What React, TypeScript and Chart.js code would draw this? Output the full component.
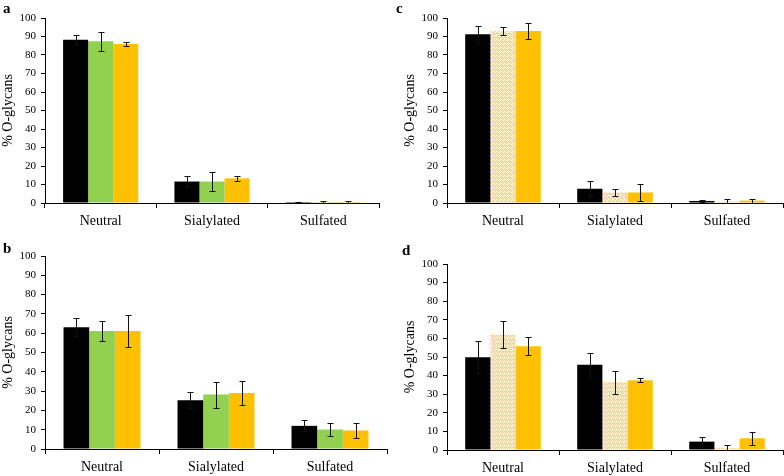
import React, { useEffect, useRef } from "react";
import { Chart, registerables } from "chart.js";

Chart.register(...registerables);

const categories = ["Neutral", "Sialylated", "Sulfated"];
const yTicks = [0, 10, 20, 30, 40, 50, 60, 70, 80, 90, 100];

// Panel a
const aBlack = [88.3, 11.6, 0.5];
const aBlackErr = [2.5, 3.1, 0.2];
const aGreen = [87.5, 11.6, 0.5];
const aGreenErr = [5.2, 4.9, 0.5];
const aOrange = [85.9, 13.3, 0.6];
const aOrangeErr = [1.2, 1.3, 0.5];

// Panel b
const bBlack = [63.1, 25.3, 12.0];
const bBlackErr = [4.8, 4.0, 2.9];
const bGreen = [61.1, 28.2, 10.1];
const bGreenErr = [5.3, 6.7, 3.2];
const bOrange = [61.1, 29.0, 9.6];
const bOrangeErr = [8.2, 6.1, 3.7];

// Panel c
const cBlack = [91.2, 7.7, 1.1];
const cBlackErr = [4.7, 4.1, 0.3];
const cPattern = [93.0, 5.7, 0.8];
const cPatternErr = [2.2, 1.8, 1.5];
const cOrange = [93.0, 5.7, 1.3];
const cOrangeErr = [4.1, 4.5, 1.1];

// Panel d
const dBlack = [49.9, 45.8, 4.5];
const dBlackErr = [8.6, 6.3, 2.5];
const dPattern = [61.9, 36.4, 1.1];
const dPatternErr = [7.2, 6.3, 1.6];
const dOrange = [55.8, 37.5, 6.3];
const dOrangeErr = [4.7, 1.0, 3.6];

const FONT = "'Liberation Serif', 'Times New Roman', serif";
const BLACK = "#000000";
const GREEN = "#92D050";
const ORANGE = "#FFC000";

function makePattern(): CanvasPattern | string {
  const c = document.createElement("canvas");
  c.width = 4;
  c.height = 4;
  const g = c.getContext("2d");
  if (!g) return "#FCE39A";
  g.fillStyle = "#FFF1C8";
  g.fillRect(0, 0, 4, 4);
  g.fillStyle = "#F8CD55";
  g.fillRect(1, 0, 1, 1);
  g.fillRect(0, 1, 1, 1);
  g.fillRect(2, 1, 1, 1);
  g.fillRect(1, 2, 1, 1);
  g.fillStyle = "#FBDB82";
  g.fillRect(3, 3, 1, 1);
  g.fillRect(3, 2, 1, 1);
  g.fillRect(2, 3, 1, 1);
  const p = g.createPattern(c, "repeat");
  return p || "#FCE39A";
}

const errorBars = {
  id: "errorBars",
  afterDatasetsDraw(chart: any) {
    const ctx = chart.ctx;
    const y = chart.scales.y;
    ctx.save();
    ctx.strokeStyle = "#111";
    ctx.lineWidth = 1;
    chart.data.datasets.forEach((ds: any, i: number) => {
      const meta = chart.getDatasetMeta(i);
      meta.data.forEach((bar: any, j: number) => {
        const v = ds.data[j];
        const e = ds.errors[j];
        const x = Math.round(bar.x) + 0.5;
        const yt = Math.round(y.getPixelForValue(v + e)) + 0.5;
        const yb = Math.round(y.getPixelForValue(Math.max(0, v - e))) + 0.5;
        ctx.beginPath();
        ctx.moveTo(x, yt);
        ctx.lineTo(x, yb);
        ctx.moveTo(x - 3, yt);
        ctx.lineTo(x + 3, yt);
        ctx.moveTo(x - 3, yb);
        ctx.lineTo(x + 3, yb);
        ctx.stroke();
      });
    });
    ctx.restore();
  },
};

const panelLabel = {
  id: "panelLabel",
  afterDraw(chart: any, _args: any, opts: any) {
    if (!opts || !opts.text) return;
    const ctx = chart.ctx;
    ctx.save();
    ctx.fillStyle = "#000";
    ctx.font = `bold 15px ${FONT}`;
    ctx.textBaseline = "alphabetic";
    ctx.fillText(opts.text, opts.x, opts.y);
    ctx.restore();
  },
};

type PanelProps = {
  letter: string;
  left: number;
  top: number;
  width: number;
  height: number;
  padTop: number;
  padRight: number;
  yWidth: number;
  xHeight: number;
  titlePad: number;
  labelX: number;
  labelY: number;
  series: { values: number[]; errors: number[]; color: string }[];
};

function Panel(p: PanelProps) {
  const ref = useRef<HTMLCanvasElement | null>(null);
  useEffect(() => {
    if (!ref.current) return;
    const pattern = makePattern();
    const chart = new Chart(ref.current, {
      type: "bar",
      data: {
        labels: categories,
        datasets: p.series.map((s, i) => ({
          label: `Series ${i + 1}`,
          data: s.values,
          errors: s.errors,
          backgroundColor: s.color === "pattern" ? pattern : s.color,
          borderWidth: 0,
          categoryPercentage: 0.675,
          barPercentage: 1.0,
        })) as any,
      },
      options: {
        animation: false,
        responsive: false,
        devicePixelRatio: 1,
        layout: { padding: { left: 0, right: p.padRight, top: p.padTop, bottom: 0 } },
        plugins: {
          legend: { display: false },
          tooltip: { enabled: false },
          panelLabel: { text: p.letter, x: p.labelX, y: p.labelY },
        } as any,
        scales: {
          x: {
            grid: {
              offset: true,
              drawOnChartArea: false,
              tickLength: 5,
              color: "#000",
              tickColor: "#000",
            },
            border: { color: "#000", width: 1 },
            ticks: { font: { family: FONT, size: 14 }, color: "#000", padding: 5 },
            afterFit(s: any) {
              s.height = p.xHeight;
            },
          },
          y: {
            min: 0,
            max: 100,
            afterBuildTicks(s: any) {
              s.ticks = yTicks.map((v) => ({ value: v }));
            },
            ticks: { font: { family: FONT, size: 11 }, color: "#000", padding: 5 },
            grid: { drawOnChartArea: false, tickLength: 4, tickColor: "#000", color: "#000" },
            border: { color: "#000", width: 1 },
            title: {
              display: true,
              text: "% O-glycans",
              font: { family: FONT, size: 14 },
              color: "#000",
              padding: { top: p.titlePad, bottom: 0 },
            },
            afterFit(s: any) {
              s.width = p.yWidth;
            },
          },
        },
      } as any,
      plugins: [errorBars, panelLabel],
    });
    return () => chart.destroy();
  }, []);
  return (
    <div style={{ position: "absolute", left: p.left, top: p.top, width: p.width, height: p.height }}>
      <canvas ref={ref} width={p.width} height={p.height} style={{ width: p.width, height: p.height, display: "block" }} />
    </div>
  );
}

const panels: PanelProps[] = [
  {
    letter: "a", left: 0, top: 0, width: 392, height: 238,
    padTop: 18, padRight: 13, yWidth: 45, xHeight: 35, titlePad: 0,
    labelX: 3, labelY: 13,
    series: [
      { values: aBlack, errors: aBlackErr, color: BLACK },
      { values: aGreen, errors: aGreenErr, color: GREEN },
      { values: aOrange, errors: aOrangeErr, color: ORANGE },
    ],
  },
  {
    letter: "c", left: 392, top: 0, width: 392, height: 238,
    padTop: 18, padRight: 1, yWidth: 55, xHeight: 35, titlePad: 10,
    labelX: 4, labelY: 13,
    series: [
      { values: cBlack, errors: cBlackErr, color: BLACK },
      { values: cPattern, errors: cPatternErr, color: "pattern" },
      { values: cOrange, errors: cOrangeErr, color: ORANGE },
    ],
  },
  {
    letter: "b", left: 0, top: 238, width: 392, height: 238,
    padTop: 18, padRight: 5, yWidth: 45, xHeight: 27, titlePad: 0,
    labelX: 3, labelY: 15,
    series: [
      { values: bBlack, errors: bBlackErr, color: BLACK },
      { values: bGreen, errors: bGreenErr, color: GREEN },
      { values: bOrange, errors: bOrangeErr, color: ORANGE },
    ],
  },
  {
    letter: "d", left: 392, top: 238, width: 392, height: 238,
    padTop: 26, padRight: 1, yWidth: 55, xHeight: 26, titlePad: 10,
    labelX: 10, labelY: 17,
    series: [
      { values: dBlack, errors: dBlackErr, color: BLACK },
      { values: dPattern, errors: dPatternErr, color: "pattern" },
      { values: dOrange, errors: dOrangeErr, color: ORANGE },
    ],
  },
];

export default function App() {
  return (
    <div style={{ position: "fixed", left: 0, top: 0, width: 784, height: 476, background: "#fff" }}>
      {panels.map((p) => (
        <Panel key={p.letter} {...p} />
      ))}
    </div>
  );
}
